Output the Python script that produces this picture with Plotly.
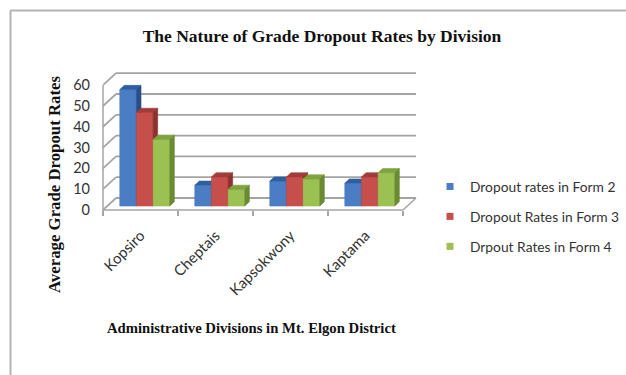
import plotly.graph_objects as go

# ---- data ----
divisions = ["Kopsiro", "Cheptais", "Kapsokwony", "Kaptama"]
series_names = ["Dropout rates in Form 2", "Dropout Rates in Form 3", "Drpout Rates in Form 4"]
form2 = [56, 10, 12, 11]
form3 = [45, 14, 14, 14]
form4 = [32, 8, 13, 16]
y_ticks = [0, 10, 20, 30, 40, 50, 60]

series_values = [form2, form3, form4]
# front / top / side shades for each series
face_colors = [
    ("#4a7dc3", "#2f5f9f", "#294f86"),
    ("#c64f4c", "#a23c3a", "#8a3230"),
    ("#9cc153", "#7fa33f", "#6a8a33"),
]

# ---- layout geometry (pixels) ----
W, H = 626, 375
PL, PR, PT, PB = 103, 430, 60, 210          # plot area box
CAT_PX = 75.0                                # pixels per category
UNIT_PX = 2.08                               # pixels per value unit
x_lo = -0.5
x_hi = x_lo + (PR - PL) / CAT_PX
y_hi = (PB - PT) / UNIT_PX

# depth of the 3-D box (back wall relative to the front edge), in data units
DEPTH_X = 13 / CAT_PX
DEPTH_Y = 12 / UNIT_PX
# bars sit between these fractions of the floor depth
BAR_F0, BAR_F1 = 0.33, 0.68
GROUP_FRAC = 2 / 3
n_cat = len(divisions)
n_ser = len(series_values)
bar_w = GROUP_FRAC / n_ser
bdx = (BAR_F1 - BAR_F0) * DEPTH_X
bdy = (BAR_F1 - BAR_F0) * DEPTH_Y
base = BAR_F0 * DEPTH_Y


def px_to_paper_x(px):
    return (px - PL) / (PR - PL)


def px_to_paper_y(py):
    return (PB - py) / (PB - PT)


fig = go.Figure()

# ---- 3-D columns: front, top and side faces, series drawn left to right ----
for k, (vals, name, (c_front, c_top, c_side)) in enumerate(zip(series_values, series_names, face_colors)):
    fx, fy, tx, ty, sx, sy = [], [], [], [], [], []
    for i, v in enumerate(vals):
        x0 = i - GROUP_FRAC / 2 + k * bar_w + BAR_F0 * DEPTH_X
        x1 = x0 + bar_w
        top = base + v
        fx += [x0, x1, x1, x0, x0, None]
        fy += [base, base, top, top, base, None]
        tx += [x0, x0 + bdx, x1 + bdx, x1, x0, None]
        ty += [top, top + bdy, top + bdy, top, top, None]
        sx += [x1, x1, x1 + bdx, x1 + bdx, x1, None]
        sy += [base, top, top + bdy, base + bdy, base, None]
    for xs, ys, col in ((fx, fy, c_front), (tx, ty, c_top), (sx, sy, c_side)):
        fig.add_trace(go.Scatter(
            x=xs, y=ys, mode="lines", fill="toself", fillcolor=col,
            line=dict(width=0.6, color=col), hoverinfo="skip", showlegend=False,
        ))

# legend keys
for k, name in enumerate(series_names):
    fig.add_trace(go.Scatter(
        x=[None], y=[None], mode="markers", name=name, legendgroup=f"g{k}",
        marker=dict(symbol="square", size=7, color=face_colors[k][0]),
    ))

# ---- walls, floor and grid ----
GRID = "#a4a4a4"
shapes = []
xb0 = x_lo + DEPTH_X
xb1 = x_lo + n_cat + DEPTH_X
for v in y_ticks:
    # side wall
    shapes.append(dict(type="line", xref="x", yref="y", x0=x_lo, y0=v, x1=xb0, y1=v + DEPTH_Y,
                       line=dict(color=GRID, width=1.8), layer="below"))
    # back wall
    shapes.append(dict(type="line", xref="x", yref="y", x0=xb0, y0=v + DEPTH_Y, x1=xb1, y1=v + DEPTH_Y,
                       line=dict(color=GRID, width=1.8), layer="below"))
# floor right edge
shapes.append(dict(type="line", xref="x", yref="y", x0=x_lo + n_cat, y0=0, x1=xb1, y1=DEPTH_Y,
                   line=dict(color=GRID, width=1.5), layer="below"))
# front floor edge (category axis)
shapes.append(dict(type="line", xref="paper", yref="paper", x0=0, y0=0,
                   x1=px_to_paper_x(PL + n_cat * CAT_PX), y1=0,
                   line=dict(color=GRID, width=1.5), layer="below"))
# value axis line
shapes.append(dict(type="line", xref="paper", yref="paper", x0=0, y0=px_to_paper_y(PB + 4),
                   x1=0, y1=y_ticks[-1] / y_hi,
                   line=dict(color=GRID, width=1.5), layer="below"))
# outer frame (runs off the right and bottom edges)
FRAME = "#b4b4b4"
shapes.append(dict(type="line", xref="paper", yref="paper",
                   x0=px_to_paper_x(10.5), y0=px_to_paper_y(10.5),
                   x1=px_to_paper_x(W), y1=px_to_paper_y(10.5),
                   line=dict(color=FRAME, width=2), layer="below"))
shapes.append(dict(type="line", xref="paper", yref="paper",
                   x0=px_to_paper_x(10.5), y0=px_to_paper_y(10.5),
                   x1=px_to_paper_x(10.5), y1=px_to_paper_y(H),
                   line=dict(color=FRAME, width=2), layer="below"))

SERIF = "Liberation Serif"
SANS = "Lato"

annotations = [
    dict(text="Average Grade Dropout Rates", textangle=-90,
         xref="paper", yref="paper", x=px_to_paper_x(54), y=px_to_paper_y(185),
         xanchor="center", yanchor="middle", showarrow=False,
         font=dict(family=SERIF, size=16.8, color="#111", weight="bold")),
    dict(text="Administrative Divisions in Mt. Elgon District",
         xref="paper", yref="paper", x=px_to_paper_x(251), y=px_to_paper_y(328),
         xanchor="center", yanchor="middle", showarrow=False,
         font=dict(family=SERIF, size=14.7, color="#111", weight="bold")),
]

fig.update_layout(
    width=W, height=H,
    margin=dict(l=PL, r=W - PR, t=PT, b=H - PB, pad=0, autoexpand=False),
    paper_bgcolor="white", plot_bgcolor="white",
    title=dict(text="The Nature of Grade Dropout Rates by Division",
               x=322 / W, xref="container", xanchor="center",
               y=1 - 36 / H, yref="container", yanchor="middle",
               font=dict(family=SERIF, size=17.5, color="#111", weight="bold")),
    xaxis=dict(range=[x_lo, x_hi], showgrid=False, zeroline=False, showline=False,
               tickmode="array", tickvals=list(range(n_cat)), ticktext=divisions,
               tickangle=-45, ticks="", ticklabelstandoff=13,
               tickfont=dict(family=SANS, size=15, color="#333333"),
               minor=dict(ticks="outside", ticklen=5, tickwidth=1.5, tickcolor=GRID,
                          tickmode="array", tickvals=[x_lo + j for j in range(n_cat + 1)]),
               fixedrange=True),
    yaxis=dict(range=[0, y_hi], showgrid=False, zeroline=False, showline=False,
               tickmode="array", tickvals=y_ticks, ticks="", ticklabelstandoff=12,
               tickfont=dict(family=SANS, size=14.5, color="#333333"),
               fixedrange=True),
    legend=dict(x=px_to_paper_x(430), y=px_to_paper_y(171), xanchor="left", yanchor="top",
                font=dict(family=SANS, size=13.8, color="#333333"),
                tracegroupgap=9, bgcolor="rgba(0,0,0,0)"),
    shapes=shapes,
    annotations=annotations,
    showlegend=True,
)

fig.write_html("out.html")
